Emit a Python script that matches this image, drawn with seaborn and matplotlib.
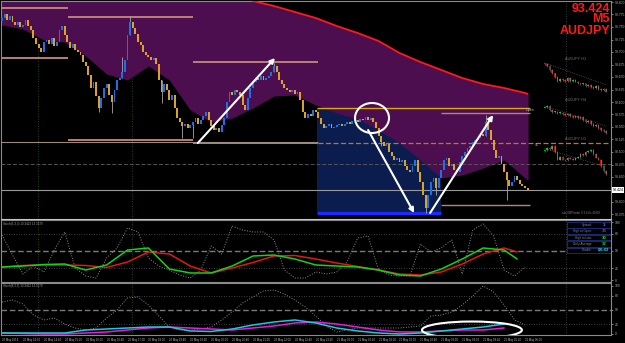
import numpy as np
import matplotlib
matplotlib.use("Agg")
import matplotlib.pyplot as plt
import matplotlib.transforms as mtransforms
from matplotlib.patches import Ellipse, Rectangle
import seaborn as sns

# ---------------- data ----------------
first_open = 93.762
closes = [
    93.768, 93.776, 93.764, 93.772, 93.760, 93.754, 93.760, 93.750, 93.754, 93.764,
    93.752, 93.744, 93.728, 93.716, 93.708, 93.700, 93.720, 93.724, 93.716, 93.728,
    93.712, 93.720, 93.744, 93.752, 93.734, 93.720, 93.708, 93.716, 93.704, 93.700,
    93.694, 93.680, 93.672, 93.654, 93.628, 93.640, 93.612, 93.588, 93.608, 93.628,
    93.636, 93.614, 93.600, 93.624, 93.644, 93.648, 93.660, 93.684, 93.734, 93.760,
    93.748, 93.736, 93.720, 93.714, 93.700, 93.694, 93.690, 93.684, 93.688, 93.676,
    93.644, 93.620, 93.636, 93.624, 93.604, 93.614, 93.588, 93.568, 93.560, 93.552,
    93.556, 93.548, 93.554, 93.560, 93.568, 93.556, 93.564, 93.572, 93.580, 93.564,
    93.552, 93.544, 93.548, 93.540, 93.554, 93.568, 93.600, 93.620, 93.614, 93.624,
    93.620, 93.614, 93.594, 93.584, 93.608, 93.628, 93.640, 93.648, 93.644, 93.652,
    93.644, 93.648, 93.652, 93.660, 93.672, 93.660, 93.644, 93.636, 93.628, 93.624,
    93.620, 93.624, 93.616, 93.620, 93.604, 93.580, 93.568, 93.576, 93.572, 93.584,
    93.580, 93.568, 93.556, 93.548, 93.552, 93.556, 93.548, 93.550, 93.554, 93.556,
    93.552, 93.556, 93.560, 93.556, 93.562, 93.564, 93.560, 93.566, 93.564, 93.570,
    93.564, 93.568, 93.560, 93.548, 93.532, 93.520, 93.512, 93.516, 93.500, 93.492,
    93.484, 93.488, 93.480, 93.484, 93.472, 93.464, 93.460, 93.472, 93.484, 93.460,
    93.440, 93.414, 93.388, 93.414, 93.440, 93.448, 93.428, 93.448, 93.464, 93.484,
    93.488, 93.472, 93.476, 93.464, 93.460, 93.480, 93.492, 93.500, 93.508, 93.512,
    93.520, 93.524, 93.528, 93.536, 93.532, 93.560, 93.544, 93.524, 93.504, 93.488,
    93.492, 93.476, 93.460, 93.444, 93.432, 93.440, 93.452, 93.444, 93.436, 93.432,
    93.428, 93.424,
]
wick_bars = [37, 42, 46, 49, 61, 69, 73, 104, 145, 162, 166, 185, 193]
wick_hi = [93.612, 93.614, 93.690, 93.772, 93.644, 93.560, 93.560, 93.678, 93.532, 93.414, 93.448, 93.574, 93.460]
wick_lo = [93.580, 93.578, 93.648, 93.734, 93.598, 93.528, 93.528, 93.660, 93.512, 93.378, 93.414, 93.532, 93.404]

env_bars = [0, 8, 16, 24, 32, 40, 48, 56, 64, 72, 80, 88, 96, 104, 112, 120, 128,
            136, 144, 152, 160, 168, 176, 184, 192, 200, 201]
env_vals = [93.754, 93.746, 93.724, 93.720, 93.692, 93.656, 93.644, 93.672, 93.644,
            93.584, 93.560, 93.568, 93.588, 93.612, 93.614, 93.594, 93.578, 93.566,
            93.544, 93.518, 93.484, 93.448, 93.454, 93.468, 93.484, 93.448, 93.444]
ma_bars = [96, 104, 112, 120, 128, 136, 144, 152, 160, 168, 176, 184, 192, 200, 201]
ma_vals = [93.802, 93.792, 93.780, 93.768, 93.752, 93.738, 93.722, 93.698, 93.680,
           93.664, 93.648, 93.636, 93.628, 93.618, 93.616]

# horizontal levels (price, from bar, to bar)
sr_prices = [93.788, 93.770, 93.688, 93.680, 93.524, 93.518]
sr_from = [-0.4, 25.2, -0.4, 73.0, 25.2, 73.0]
sr_to = [25.2, 73.0, 25.2, 120.8, 73.0, 120.8]
box_prices = [93.578, 93.394]
box_from, box_to = 168.0, 202.0
open_price = 93.588
zone_low, zone_high = 93.378, 93.588
zone_from, zone_to = 120.5, 168.0
pivot_price = 93.518
mid_price = 93.476
prev_low = 93.520
current_price = 93.424

arrow_x0 = [74.9, 140.0, 163.7]
arrow_y0 = [93.518, 93.544, 93.378]
arrow_x1 = [104.4, 157.6, 187.8]
arrow_y1 = [93.688, 93.378, 93.574]

price_ticks = [93.375, 93.400, 93.450, 93.475, 93.500, 93.525, 93.550, 93.575,
               93.600, 93.625, 93.650, 93.675, 93.700, 93.725, 93.750, 93.775, 93.800]

time_bars = list(range(0, 201, 8))
time_labels = ["20 May 2014", "20 May 14:00", "20 May 14:40", "20 May 15:20", "20 May 16:00",
               "20 May 16:40", "20 May 17:20", "20 May 18:00", "20 May 18:40", "20 May 19:20",
               "20 May 20:00", "20 May 20:40", "20 May 21:20", "20 May 22:00", "20 May 22:40",
               "20 May 23:20", "21 May 00:00", "21 May 00:40", "21 May 01:20", "21 May 02:00",
               "21 May 02:40", "21 May 03:20", "21 May 04:00", "21 May 04:40", "21 May 05:20",
               "21 May 06:00"]

stoch_bars = [0, 8, 16, 24, 32, 40, 48, 56, 64, 72, 80, 88, 96, 104, 112, 120, 128,
              136, 144, 152, 160, 168, 176, 184, 192, 197]
stoch_main = [22.4, 24.1, 26.7, 27.6, 17.2, 25.9, 51.7, 55.2, 19.0, 12.1, 12.1, 24.1, 41.4,
              43.1, 36.2, 25.9, 24.1, 22.4, 17.2, 8.6, 6.9, 19.0, 36.2, 55.2, 51.7, 36.2]
stoch_signal = [22.4, 25.0, 25.9, 25.9, 25.0, 21.6, 31.0, 48.3, 44.8, 24.1, 12.1, 20.7, 30.2,
                41.4, 42.2, 36.2, 29.3, 23.3, 17.2, 10.3, 8.6, 13.8, 27.6, 44.8, 55.2, 48.3]
fast_bars = list(range(0, 201, 4))
fast1 = [77.6, 43.1, 10.3, 24.1, 13.8, 51.7, 82.8, 20.7, 6.9, 3.4, 37.9, 55.2, 89.7, 82.8,
         37.9, 24.1, 17.2, 8.6, 3.4, 17.2, 58.6, 44.8, 93.1, 86.2, 82.8, 82.8, 69.0, 17.2,
         3.4, 3.4, 13.8, 10.3, 13.8, 31.0, 72.4, 75.9, 17.2, 8.6, 6.9, 6.9, 62.1, 48.3,
         55.2, 69.0, 10.3, 86.2, 96.6, 75.9, 17.2, 6.9, 22.4]
fast2 = [66.7, 70.8, 62.5, 39.6, 29.2, 33.3, 20.8, 12.5, 8.3, 12.5, 33.3, 50.0, 75.0, 77.1,
         60.4, 37.5, 14.6, 8.3, 8.3, 10.4, 14.6, 29.2, 45.8, 64.6, 77.1, 89.6, 91.7, 83.3,
         70.8, 56.3, 37.5, 16.7, 4.2, 8.3, 12.5, 12.5, 12.5, 12.5, 12.5, 14.6, 16.7, 37.5,
         39.6, 45.8, 60.4, 79.2, 100.0, 87.5, 60.4, 29.2, 18.8]
slow_bars = list(range(0, 193, 8))
slow_cyan = [2.1, 2.1, 2.1, 2.1, 8.3, 10.4, 12.5, 14.6, 14.6, 6.3, 5.2, 10.4, 18.8, 25.0,
             29.2, 22.9, 12.5, 6.3, 2.1, 0.0, 2.1, 6.3, 10.4, 14.6, 20.8]
slow_magenta = [2.1, 1.0, 0.0, 0.0, 2.1, 4.2, 8.3, 12.5, 14.6, 12.5, 10.4, 8.3, 12.5, 16.7,
                22.9, 25.0, 20.8, 14.6, 8.3, 4.2, 4.2, 6.3, 8.3, 8.3, 12.5]
levels = [80, 50, 20]
scale_ticks = [0, 20, 50, 80, 100]

mini_h1 = [93.724, 93.704, 93.664, 93.624, 93.584, 93.544, 93.564, 93.554, 93.544, 93.574,
           93.544, 93.554, 93.534, 93.514, 93.504, 93.514, 93.484, 93.494, 93.474, 93.464,
           93.484, 93.454, 93.444, 93.454, 93.424]
mini_h4 = [93.684, 93.694, 93.654, 93.634, 93.634, 93.624, 93.624, 93.614, 93.604, 93.614,
           93.594, 93.584, 93.594, 93.574, 93.584, 93.554, 93.534, 93.544, 93.514, 93.494,
           93.504, 93.474, 93.454, 93.444, 93.424]
mini_d1 = [94.174, 94.234, 94.204, 94.294, 94.114, 93.874, 93.964, 93.874, 93.844, 93.934,
           93.904, 93.874, 93.934, 93.964, 94.054, 94.024, 94.114, 94.144, 94.174, 94.054,
           93.934, 93.874, 93.664, 93.514, 93.424]

info_names = ["Spread:", "High to Open:", "High to Low:", "Daily Average:", "Candle:"]
info_values = ["1", "33", "30", "37", "04:43"]

# ---------------- style ----------------
sns.set_theme(style="dark", rc={"axes.facecolor": "black", "figure.facecolor": "black",
                                "axes.edgecolor": "#8a8a8a", "axes.linewidth": 0.8})
plt.rcParams['font.family'] = ['Liberation Sans', 'DejaVu Sans']

W, H = 625, 343
fig = plt.figure(figsize=(6.25, 3.43), dpi=100, facecolor="black")


def rect(x0, y0, x1, y1):
    return [x0 / W, 1 - y1 / H, (x1 - x0) / W, (y1 - y0) / H]


XL = ((1 - 2) / 2.615, (611 - 2) / 2.615)
ax = fig.add_axes(rect(1, 1, 611, 219))
ax1 = fig.add_axes(rect(1, 220, 611, 282))
ax2 = fig.add_axes(rect(1, 283, 611, 335))
for a in (ax, ax1, ax2):
    a.set_facecolor("black")
    a.set_xlim(*XL)
    for s in a.spines.values():
        s.set_color("#8a8a8a")
        s.set_linewidth(0.8)
    for vx, vc in ((13.8, "#2c5a2c"), (49.7, "#2c5a2c"), (215.7, "#4a4a4a")):
        a.axvline(vx, color=vc, lw=0.6, ls=(0, (1, 2)), zorder=1)
ax.spines["bottom"].set_color("#c8c8c8")

ax.set_ylim(93.804 - 0.002 * 219, 93.804 - 0.002 * 1)

# zone, envelope fill and MA
ax.add_patch(Rectangle((zone_from, zone_low), zone_to - zone_from, zone_high - zone_low,
                       facecolor="#0b1d4e", edgecolor="none", zorder=1))
xf = np.linspace(-0.4, 201.2, 900)
lower = np.interp(xf, env_bars, env_vals)
upper = np.interp(xf, ma_bars, ma_vals, left=93.82)
ax.fill_between(xf, lower, upper, color="#4c0e4e", lw=0, zorder=2)
sns.lineplot(x=ma_bars, y=ma_vals, ax=ax, color="#ff1a1a", lw=1.3, zorder=6, legend=False)

# levels
for p, f, t in zip(sr_prices, sr_from, sr_to):
    ax.hlines(p, f, t, color="#b98276", lw=1.4, zorder=3)
ax.hlines(prev_low, XL[0], 120.8, color="#9a8a80", lw=0.8, zorder=3)
ax.hlines(pivot_price, 120.8, XL[1], color="#c8731f", lw=0.9, ls=(0, (4, 2)), zorder=3)
ax.hlines(mid_price, XL[0], XL[1], color="#555555", lw=0.7, ls=(0, (4, 2)), zorder=3)
ax.hlines(current_price, XL[0], XL[1], color="#9a9a9a", lw=0.8, zorder=3)
ax.hlines(open_price, zone_from, box_to, color="#d8a81a", lw=1.0, zorder=3)
for p in box_prices:
    ax.hlines(p, box_from, box_to, color="#b98276", lw=1.0, zorder=3)
ax.hlines(zone_low, zone_from, zone_to, color="#1a2cff", lw=2.2, zorder=3)

# candles
c = np.array(closes)
o = np.r_[first_open, c[:-1]]
xb = np.arange(len(c))
up = c >= o
bottom = np.minimum(o, c)
height = np.maximum(np.abs(c - o), 0.0014)
ax.vlines(wick_bars, wick_lo, wick_hi, color="#a8a8a8", lw=0.6, zorder=4)
ax.bar(xb[up], height[up], bottom=bottom[up], width=0.72, color="#1f6fe6", lw=0, zorder=5)
ax.bar(xb[~up], height[~up], bottom=bottom[~up], width=0.72, color="#dba22a", lw=0, zorder=5)

# arrows and circle
for x0, y0, x1, y1 in zip(arrow_x0, arrow_y0, arrow_x1, arrow_y1):
    ax.annotate("", xy=(x1, y1), xytext=(x0, y0), zorder=7,
                arrowprops=dict(arrowstyle="-|>", color="white", lw=1.5, mutation_scale=7,
                                shrinkA=0, shrinkB=0))
ax.add_patch(Ellipse((141.5, 93.568), 13.0, 0.060, fill=False, edgecolor="white", lw=1.5, zorder=7))

# price axis
ax.yaxis.tick_right()
ax.set_yticks(price_ticks)
ax.set_yticklabels([f"{v:.3f}" for v in price_ticks])
ax.tick_params(axis="y", colors="#b0b0b0", labelsize=2.4, length=1.5, width=0.5, pad=1)
ax.set_xticks([])
trans = mtransforms.blended_transform_factory(ax.transAxes, ax.transData)
ax.text(1.003, current_price, "93.424", transform=trans, fontsize=2.6, color="black",
        va="center", ha="left", bbox=dict(facecolor="white", edgecolor="none", pad=0.4), zorder=9)
ax.text(200.5, open_price - 0.004, "Open", fontsize=2.6, color="#c0c0c0", va="center", ha="left")
ax.text(203.8, 93.514, "SL", fontsize=2.4, color="#c0c0c0", va="center", ha="left")
ax.text(214, 93.378, "ads-GBPtrader V 3.4 Ex 49999", fontsize=2.0, color="#808080",
        va="center", ha="left")

# big red labels
for txt, yy in (("93.424", 8.5), ("M5", 19.5), ("AUDJPY", 30.5)):
    fig.text(610 / W, 1 - yy / H, txt, ha="right", va="center", color="#ff1a1a",
             fontsize=9, fontweight="bold", family=["Liberation Sans", "DejaVu Sans"])

# indicator panel 1
ax1.set_ylim((280 - 282) / 58 * 100, (280 - 220) / 58 * 100)
for lv in levels:
    if lv == 50:
        ax1.axhline(lv, color="#7a7a7a", lw=1.0, ls=(0, (4, 2)))
    else:
        ax1.axhline(lv, color="#555555", lw=0.6, ls=(0, (1, 2)))
sns.lineplot(x=fast_bars, y=fast1, ax=ax1, color="#8c8c8c", lw=0.7, ls=":", legend=False)
sns.lineplot(x=stoch_bars, y=stoch_signal, ax=ax1, color="#e01818", lw=1.1, legend=False)
sns.lineplot(x=stoch_bars, y=stoch_main, ax=ax1, color="#18d018", lw=1.1, legend=False)
ax1.text(0.5, 100.5, "Stoch(5,3,3) 13.2422 13.1679", fontsize=2.2, color="#a0a0a0", va="top")

# indicator panel 2
ax2.set_ylim(-2.1, 106.25)
for lv in levels:
    if lv == 50:
        ax2.axhline(lv, color="#7a7a7a", lw=1.0, ls=(0, (4, 2)))
    else:
        ax2.axhline(lv, color="#555555", lw=0.6, ls=(0, (1, 2)))
sns.lineplot(x=fast_bars, y=fast2, ax=ax2, color="#8c8c8c", lw=0.7, ls=":", legend=False)
sns.lineplot(x=slow_bars, y=slow_magenta, ax=ax2, color="#e020e0", lw=1.1, legend=False)
sns.lineplot(x=slow_bars, y=slow_cyan, ax=ax2, color="#20c8d8", lw=1.1, legend=False)
ax2.add_patch(Ellipse((179.7, 8.3), 38.2, 35.4, fill=False, edgecolor="white", lw=1.5, zorder=7))
ax2.text(0.5, 104, "Stoch(8,3,3) 13.2422 13.1679", fontsize=2.2, color="#a0a0a0", va="top")

for a in (ax1, ax2):
    a.yaxis.tick_right()
    a.set_yticks(scale_ticks)
    a.set_yticklabels([str(v) for v in scale_ticks])
    a.tick_params(axis="y", colors="#b0b0b0", labelsize=2.4, length=1.5, width=0.5, pad=1)
    a.set_xlabel("")
    a.set_ylabel("")
ax.set_xlabel("")
ax.set_ylabel("")
ax1.set_xticks([])
ax2.set_xticks(time_bars)
ax2.set_xticklabels(time_labels, ha="left")
ax2.tick_params(axis="x", colors="#b8b8b8", labelsize=2.0, length=1.5, width=0.5, pad=1)

# info box
axi = fig.add_axes(rect(566, 221, 611, 255))
axi.set_xlim(0, 45)
axi.set_ylim(34, 0)
axi.axis("off")
val_colors = ["#3a86ff", "#ff2020", "#20d020", "#20d020", "#20d0e0"]
for k, (nm, vl) in enumerate(zip(info_names, info_values)):
    y0 = 1 + k * 6.4
    axi.add_patch(Rectangle((0.5, y0), 44, 5.6, facecolor="black", edgecolor="#1a2f8a", lw=0.6))
    axi.text(26, y0 + 2.8, nm, fontsize=2.2, color="#8a8a8a", ha="right", va="center")
    axi.text(38, y0 + 2.8, vl, fontsize=3.2, color=val_colors[k], ha="center", va="center",
             fontweight="bold")

# mini charts
def mini(vals, box, label, ly):
    am = fig.add_axes(rect(*box))
    am.set_facecolor("none")
    am.axis("off")
    v = np.array(vals)
    op = np.r_[v[0] + (v[0] - v[1]) * 0.5, v[:-1]]
    xx = np.arange(len(v))
    u = v >= op
    bt = np.minimum(op, v)
    rng = v.max() - v.min()
    hh = np.maximum(np.abs(v - op), rng * 0.03)
    am.vlines(xx, bt - rng * 0.03, bt + hh + rng * 0.03, color="#909090", lw=0.4)
    am.bar(xx[u], hh[u], bottom=bt[u], width=0.6, color="#10c010", lw=0)
    am.bar(xx[~u], hh[~u], bottom=bt[~u], width=0.6, color="#e00000", lw=0)
    am.set_xlim(-1, len(v) + 0.5)
    am.plot([0, len(v) - 1], [v[0] + rng * 0.05, v[-1] + rng * 0.25],
            color="#707070", lw=0.5, ls=":")
    fig.text(565 / W, 1 - ly / H, label, fontsize=2.8, color="#707070", ha="left", va="center")


mini(mini_h1, (542, 61, 610, 94), "AUDJPY H1", 59)
mini(mini_h4, (542, 104, 610, 135), "AUDJPY H4", 100)
mini(mini_d1, (542, 144, 610, 176), "AUDJPY D1", 139)

fig.savefig("out.png", dpi=100, facecolor="black")
